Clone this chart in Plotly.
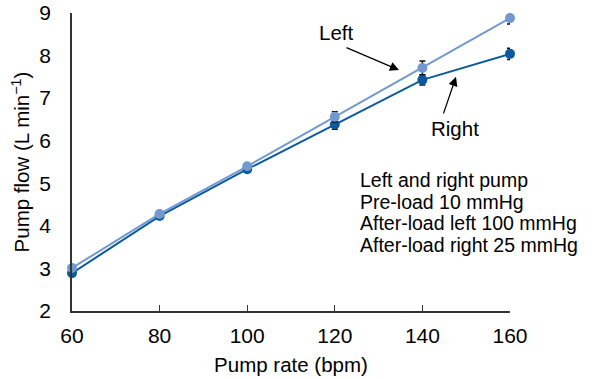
import plotly.graph_objects as go

rates = [60, 80, 100, 120, 140, 160]
left_flow = [3.01, 4.28, 5.40, 6.56, 7.71, 8.88]
left_err = [0.05, 0.05, 0.05, 0.12, 0.16, 0.14]
right_flow = [2.89, 4.23, 5.33, 6.38, 7.43, 8.04]
right_err = [0.05, 0.05, 0.05, 0.11, 0.12, 0.13]
info_lines = ["Left and right pump", "Pre-load 10 mmHg",
              "After-load left 100 mmHg", "After-load right 25 mmHg"]

LIGHT = "#7199CF"
DARK = "#0B5AA0"
FONT = "Liberation Sans, Arial, sans-serif"

fig = go.Figure()
fig.add_trace(go.Scatter(
    x=rates, y=right_flow, mode="lines+markers",
    line=dict(color=DARK, width=2), marker=dict(color=DARK, size=10),
    error_y=dict(type="data", array=right_err, color="#111111", thickness=1.5, width=3),
    cliponaxis=False, showlegend=False))
fig.add_trace(go.Scatter(
    x=rates, y=left_flow, mode="lines+markers",
    line=dict(color=LIGHT, width=2), marker=dict(color=LIGHT, size=10),
    error_y=dict(type="data", array=left_err, color="#111111", thickness=1.5, width=3),
    cliponaxis=False, showlegend=False))

fig.add_annotation(x=134.66, y=7.66, ax=-54, ay=-23, text="", showarrow=True,
                   arrowhead=2, arrowsize=1.4, arrowwidth=1.3, arrowcolor="black")
fig.add_annotation(x=0.603, y=0.933, xref="paper", yref="paper", text="Left",
                   xanchor="center", yanchor="middle",
                   showarrow=False, font=dict(family=FONT, size=20.5, color="black"))
fig.add_annotation(x=147.67, y=7.50, ax=-13, ay=38, text="", showarrow=True,
                   arrowhead=2, arrowsize=1.4, arrowwidth=1.3, arrowcolor="black")
fig.add_annotation(x=0.874, y=0.614, xref="paper", yref="paper", text="Right",
                   xanchor="center", yanchor="middle",
                   showarrow=False, font=dict(family=FONT, size=20.5, color="black"))
ys = [0.438, 0.366, 0.294, 0.222]
for line, yy in zip(info_lines, ys):
    fig.add_annotation(x=0.652, y=yy, xref="paper", yref="paper",
                       xanchor="left", yanchor="middle", align="left", showarrow=False,
                       text=line, font=dict(family=FONT, size=19.5, color="black"))

fig.update_layout(
    width=592, height=379,
    margin=dict(l=72, r=82, t=13, b=68),
    paper_bgcolor="white", plot_bgcolor="white",
    font=dict(family=FONT, size=21, color="black"),
    xaxis=dict(range=[60, 160], tickvals=rates, ticks="inside", ticklen=6,
               tickcolor="#333333", showline=True, linecolor="#333333", linewidth=1.5,
               showgrid=False, zeroline=False, ticklabelstandoff=5, automargin=False,
               title=dict(text="Pump rate (bpm)", font=dict(size=20.5), standoff=12)),
    yaxis=dict(range=[2, 9], tickvals=[2, 3, 4, 5, 6, 7, 8, 9], ticks="",
               showline=True, linecolor="#333333", linewidth=1.5, automargin=False,
               showgrid=False, zeroline=False, ticklabelstandoff=15,
               title=dict(text="Pump flow (L min<sup>−1</sup>)", font=dict(size=20.5), standoff=4)),
)

fig.write_html("out.html")
